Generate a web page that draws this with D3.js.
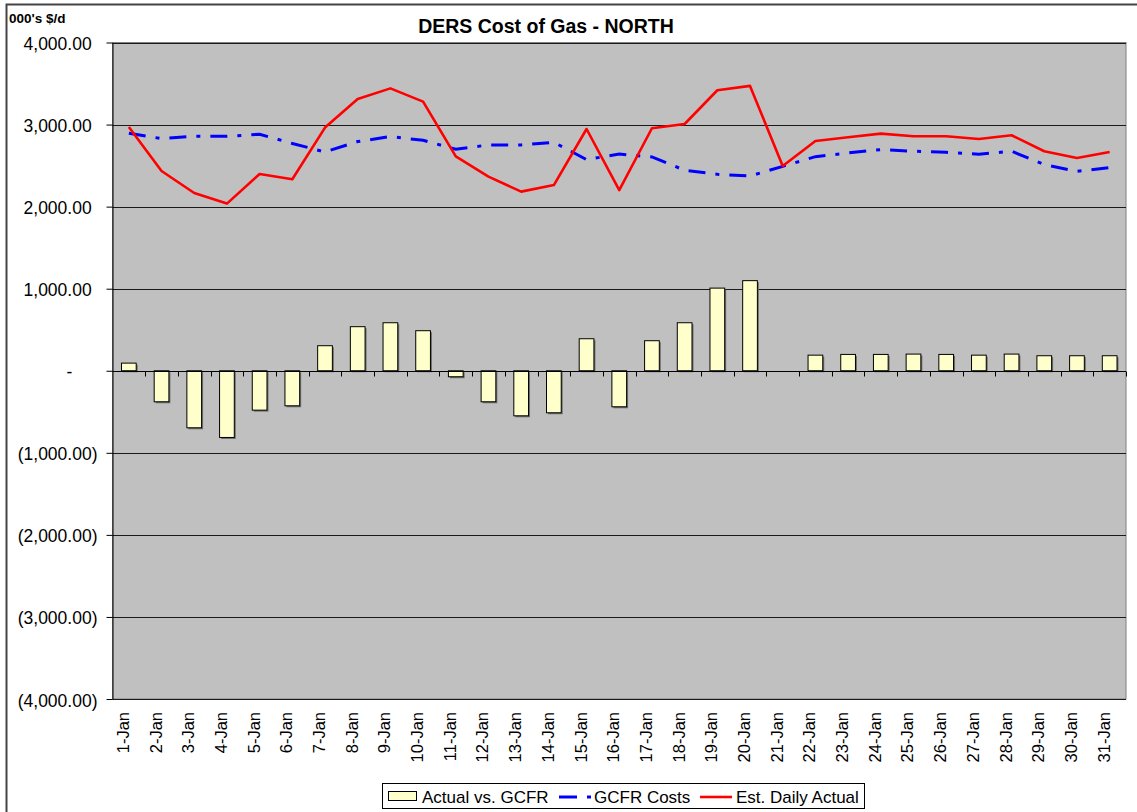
<!DOCTYPE html>
<html>
<head>
<meta charset="utf-8">
<script src="https://cdn.jsdelivr.net/npm/d3@7"></script>
<style>
    body { margin: 0; background: #fff; }
    svg { display: block; font-family: Arial, "Liberation Sans", sans-serif; }
</style>
</head>
<body>
<svg id="chart" width="1137" height="812"></svg>
<script>
let days = ["1-Jan", "2-Jan", "3-Jan", "4-Jan", "5-Jan", "6-Jan", "7-Jan", "8-Jan", "9-Jan", "10-Jan",
            "11-Jan", "12-Jan", "13-Jan", "14-Jan", "15-Jan", "16-Jan", "17-Jan", "18-Jan", "19-Jan", "20-Jan",
            "21-Jan", "22-Jan", "23-Jan", "24-Jan", "25-Jan", "26-Jan", "27-Jan", "28-Jan", "29-Jan", "30-Jan", "31-Jan"]

// 000's $/d
let actual_vs_gcfr = [93, -378, -695, -813, -480, -427, 305, 537, 585, 488,
                      -73, -378, -549, -512, 390, -439, 366, 585, 1007, 1098,
                      null, 190, 199, 199, 203, 199, 190, 203, 183, 183, 183]
let gcfr_costs = [2894, 2829, 2857, 2857, 2882, 2770, 2666, 2793, 2854, 2808,
                  2699, 2752, 2752, 2784, 2573, 2641, 2605, 2443, 2394, 2373,
                  2491, 2609, 2654, 2695, 2675, 2662, 2638, 2675, 2512, 2430, 2475]
let est_daily_actual = [2971, 2434, 2166, 2037, 2398, 2333, 2963, 3312, 3441, 3280,
                        2613, 2366, 2183, 2263, 2946, 2202, 2955, 3007, 3418, 3471,
                        2495, 2800, 2845, 2890, 2857, 2857, 2825, 2870, 2675, 2593, 2666]

let y_ticks = [4000, 3000, 2000, 1000, 0, -1000, -2000, -3000, -4000]
let series_names = ["Actual vs. GCFR", "GCFR Costs", "Est. Daily Actual"]

let plot = {left: 112.5, right: 1126, top: 42.5, bottom: 699}
let blue_dash = "17,10,4,10"

let svg = d3.select("#chart")

let x = d3.scaleBand().domain(days).range([plot.left, plot.right])
let y = d3.scaleLinear().domain([-4000, 4000]).range([plot.bottom, plot.top])
let bw = x.bandwidth()

// outer chart frame (only left and top edges are inside the picture)
svg.append("rect")
    .attr("x", 6.5).attr("y", 4.5)
    .attr("width", 1300).attr("height", 1000)
    .attr("fill", "none")
    .attr("stroke", "#444")
    .attr("stroke-width", 2)

svg.append("text")
    .attr("x", 9).attr("y", 23)
    .attr("font-size", 13.5)
    .attr("font-weight", "bold")
    .text("000's $/d")

svg.append("text")
    .attr("x", 546).attr("y", 33)
    .attr("text-anchor", "middle")
    .attr("font-size", 19.5)
    .attr("font-weight", "bold")
    .text("DERS Cost of Gas - NORTH")

// plot area
svg.append("rect")
    .attr("x", plot.left).attr("y", plot.top)
    .attr("width", plot.right - plot.left)
    .attr("height", plot.bottom - plot.top)
    .attr("fill", "#c0c0c0")
    .attr("stroke", "#808080")
    .attr("stroke-width", 1)

svg.append("g")
    .selectAll("line")
    .data(y_ticks.filter(d => d != 0))
    .enter()
    .append("line")
    .attr("x1", plot.left).attr("x2", plot.right)
    .attr("y1", d => Math.round(y(d)) + 0.5)
    .attr("y2", d => Math.round(y(d)) + 0.5)
    .attr("stroke", "#1a1a1a")
    .attr("stroke-width", 1)

// y axis
function tick_label(v) {
    let fmt = d3.format(",.2f")
    if (v > 0) return [fmt(v), ")"]
    if (v < 0) return ["(" + fmt(-v) + ")", ""]
    return ["-", "00)"]
}

let y_axis = svg.append("g")
    .attr("transform", `translate(${plot.left}, 0)`)
    .call(d3.axisLeft(y).tickValues(y_ticks).tickSize(6).tickPadding(9).tickSizeOuter(0))

y_axis.select(".domain").attr("stroke", "#000")
y_axis.selectAll(".tick line").attr("stroke", "#000")
y_axis.selectAll(".tick text")
    .attr("font-family", "Arial, 'Liberation Sans', sans-serif")
    .attr("font-size", 17.5)
    .attr("fill", "#000")
    .attr("dy", "0.4em")
    .text(null)
    .each(function(d) {
        let parts = tick_label(d)
        let t = d3.select(this)
        t.append("tspan").text(parts[0])
        if (parts[1]) t.append("tspan").attr("fill-opacity", 0).text(parts[1])
    })

// bars
let bar_w = bw * 0.45
let bar_data = actual_vs_gcfr.map((v, i) => ({day: days[i], v: v})).filter(d => d.v != null)

svg.append("g")
    .selectAll("rect")
    .data(bar_data)
    .enter()
    .append("rect")
    .attr("x", d => x(d.day) + (bw - bar_w) / 2 + 1.5)
    .attr("y", d => Math.min(y(d.v), y(0)) + 1.5)
    .attr("width", bar_w)
    .attr("height", d => Math.abs(y(d.v) - y(0)))
    .attr("fill", "#6e6e6e")

svg.append("g")
    .selectAll("rect")
    .data(bar_data)
    .enter()
    .append("rect")
    .attr("x", d => x(d.day) + (bw - bar_w) / 2)
    .attr("y", d => Math.min(y(d.v), y(0)))
    .attr("width", bar_w)
    .attr("height", d => Math.abs(y(d.v) - y(0)))
    .attr("fill", "#ffffcc")
    .attr("stroke", "#000")
    .attr("stroke-width", 1)

// category axis at zero
let zero_y = Math.round(y(0)) + 0.5
svg.append("line")
    .attr("x1", plot.left).attr("x2", plot.right)
    .attr("y1", zero_y).attr("y2", zero_y)
    .attr("stroke", "#000")

svg.append("g")
    .selectAll("line")
    .data(days)
    .enter()
    .append("line")
    .attr("x1", d => Math.round(x(d) + bw) + 0.5)
    .attr("x2", d => Math.round(x(d) + bw) + 0.5)
    .attr("y1", zero_y).attr("y2", zero_y + 5)
    .attr("stroke", "#000")

svg.append("g")
    .selectAll("text")
    .data(days)
    .enter()
    .append("text")
    .attr("transform", d => `translate(${x(d) + bw / 2}, ${plot.bottom + 13}) rotate(-90)`)
    .attr("text-anchor", "end")
    .attr("font-size", 16.5)
    .text(d => d)

// lines
let line = d3.line()
    .defined(d => d != null)
    .x((d, i) => x(days[i]) + bw / 2)
    .y(d => y(d))

svg.append("path")
    .datum(gcfr_costs)
    .attr("d", line)
    .attr("fill", "none")
    .attr("stroke", "#0000ff")
    .attr("stroke-width", 3)
    .attr("stroke-dasharray", blue_dash)

svg.append("path")
    .datum(est_daily_actual)
    .attr("d", line)
    .attr("fill", "none")
    .attr("stroke", "#ff0000")
    .attr("stroke-width", 2.6)
    .attr("stroke-linejoin", "round")

// legend
let legend = svg.append("g")
legend.append("rect")
    .attr("x", 382.5).attr("y", 783.5)
    .attr("width", 482).attr("height", 25)
    .attr("fill", "#fff")
    .attr("stroke", "#000")

legend.append("rect")
    .attr("x", 388.5).attr("y", 791.5)
    .attr("width", 28).attr("height", 9)
    .attr("fill", "#ffffcc")
    .attr("stroke", "#000")

legend.append("line")
    .attr("x1", 559).attr("x2", 591)
    .attr("y1", 797).attr("y2", 797)
    .attr("stroke", "#0000ff")
    .attr("stroke-width", 3)
    .attr("stroke-dasharray", "18,10,4,10")

legend.append("line")
    .attr("x1", 700).attr("x2", 732)
    .attr("y1", 797).attr("y2", 797)
    .attr("stroke", "#ff0000")
    .attr("stroke-width", 2.6)

legend.selectAll("text")
    .data(series_names)
    .enter()
    .append("text")
    .attr("x", (d, i) => [422, 594, 736][i])
    .attr("y", 803)
    .attr("font-size", 17)
    .text(d => d)
</script>
</body>
</html>
